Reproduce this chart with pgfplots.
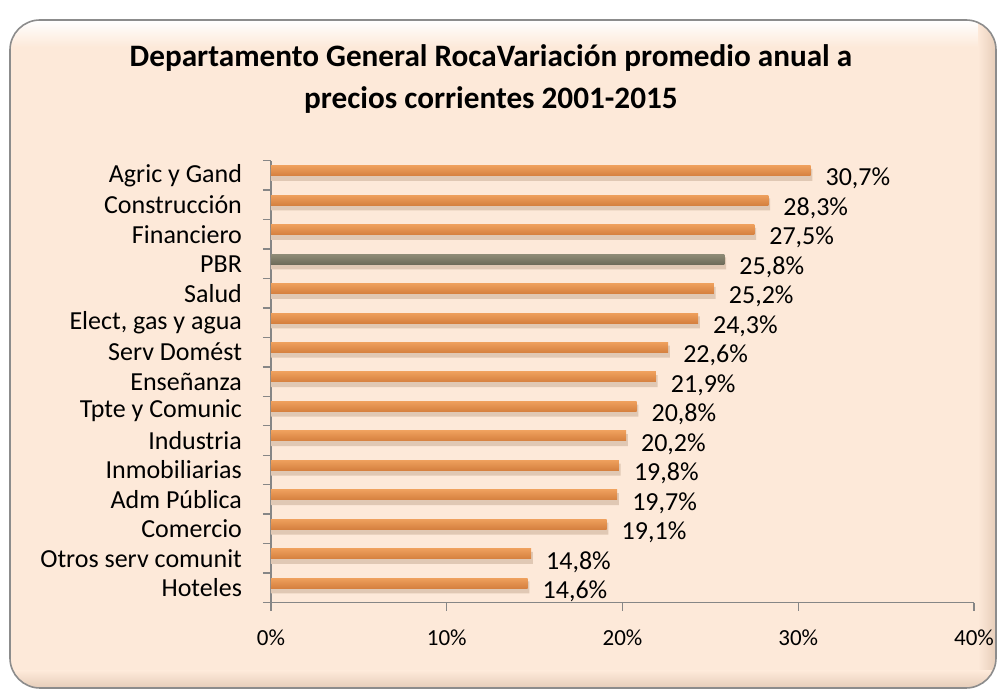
\documentclass[border=0pt]{standalone}
\usepackage{pgfplots}
\pgfplotsset{compat=1.18}
\usepackage{fontspec}
\setmainfont{Carlito}
\definecolor{bg}{HTML}{FDE9D9}
\definecolor{bgdark}{HTML}{E6CDB9}
\definecolor{frame}{HTML}{8C8C8C}
\definecolor{axgray}{HTML}{868686}
\definecolor{orTop}{HTML}{EE9F5C}
\definecolor{orMid}{HTML}{FDD7A2}
\definecolor{orBot}{HTML}{D5803F}
\definecolor{grTop}{HTML}{8F8C78}
\definecolor{grMid}{HTML}{BDBBA8}
\definecolor{grBot}{HTML}{6E6C5A}
\definecolor{shadowc}{HTML}{E0C8B4}
\pgfplotsset{
  lbl/.style={
    nodes near coords={\pgfmathprintnumber[fixed,fixed zerofill,precision=1,use comma]{\pgfplotspointmeta}\%},
    nodes near coords style={anchor=west, font=\fontsize{13}{15}\selectfont, black, xshift=4pt, yshift=-4pt}},
  obar/.style={xbar, draw=none, top color=orTop, middle color=orMid, bottom color=orBot, bar shift=2.3pt, lbl},
  gbar/.style={xbar, draw=none, top color=grTop, middle color=grMid, bottom color=grBot, bar shift=2.3pt, lbl},
}
\begin{document}
\begin{tikzpicture}
\useasboundingbox (0,0) rectangle (501.5pt,345.5pt);
\fill[white] (0,0) rectangle (501.5pt,345.5pt);
\fill[bg, rounded corners=15pt] (5pt,1.5pt) rectangle (498pt,335.5pt);
\begin{scope}
\clip[rounded corners=15pt] (5pt,1.5pt) rectangle (498pt,335.5pt);
\shade[top color=white, bottom color=bg] (5pt,322pt) rectangle (498pt,335.5pt);
\shade[left color=bg, right color=bgdark] (489pt,1.5pt) rectangle (498pt,335.5pt);
\shade[top color=bg, bottom color=bgdark] (5pt,1.5pt) rectangle (498pt,10pt);
\end{scope}
\draw[frame, line width=0.8pt, rounded corners=15pt] (5pt,1.5pt) rectangle (498pt,335.5pt);
\node[font=\fontsize{15.6}{21}\selectfont\bfseries, align=center] at (245.5pt,306pt)
  {Departamento General RocaVariación promedio anual a\\precios corrientes 2001-2015};
\begin{axis}[
  at={(135.5pt,44.2pt)}, anchor=south west,
  scale only axis, width=351.5pt, height=221pt,
  xmin=0, xmax=40, ymin=-0.5, ymax=14.5,
  axis x line*=bottom, axis y line*=left,
  axis line style={axgray, line width=0.7pt},
  tick align=outside, major tick length=4pt,
  every tick/.style={axgray, line width=0.7pt},
  /pgf/number format/assume math mode=true,
  xtick={0,10,20,30,40},
  xticklabel={\pgfmathprintnumber{\tick}\%},
  xticklabel style={font=\fontsize{11.5}{13}\selectfont, yshift=-6pt},
  ytick={0,...,14},
  y tick style={draw=none},
  yticklabels={Hoteles,Otros serv comunit,Comercio,Adm Pública,Inmobiliarias,Industria,Tpte y Comunic,Enseñanza,Serv Domést,{Elect, gas y agua},Salud,PBR,Financiero,Construcción,Agric y Gand},
  yticklabel style={font=\fontsize{13}{15}\selectfont, xshift=-7pt},
  extra y ticks={-0.5,0.5,...,14.5},
  extra y tick labels={},
  extra y tick style={y tick style={draw=axgray, line width=0.7pt}},
  xbar, bar width=5pt,
  point meta=x,
  clip=false,
]
\addplot[xbar, draw=none, fill=shadowc, bar width=6pt, bar shift=0.2pt, forget plot] coordinates {
(14.7,0) (14.9,1) (19.2,2) (19.8,3) (19.9,4) (20.3,5) (20.9,6) (22.0,7) (22.7,8) (24.4,9) (25.3,10) (25.9,11) (27.6,12) (28.4,13) (30.8,14)};
\addplot[obar] coordinates {(14.6,0)};
\addplot[obar] coordinates {(14.8,1)};
\addplot[obar] coordinates {(19.1,2)};
\addplot[obar] coordinates {(19.7,3)};
\addplot[obar] coordinates {(19.8,4)};
\addplot[obar] coordinates {(20.2,5)};
\addplot[obar] coordinates {(20.8,6)};
\addplot[obar] coordinates {(21.9,7)};
\addplot[obar] coordinates {(22.6,8)};
\addplot[obar] coordinates {(24.3,9)};
\addplot[obar] coordinates {(25.2,10)};
\addplot[gbar] coordinates {(25.8,11)};
\addplot[obar] coordinates {(27.5,12)};
\addplot[obar] coordinates {(28.3,13)};
\addplot[obar] coordinates {(30.7,14)};
\end{axis}
\end{tikzpicture}
\end{document}
